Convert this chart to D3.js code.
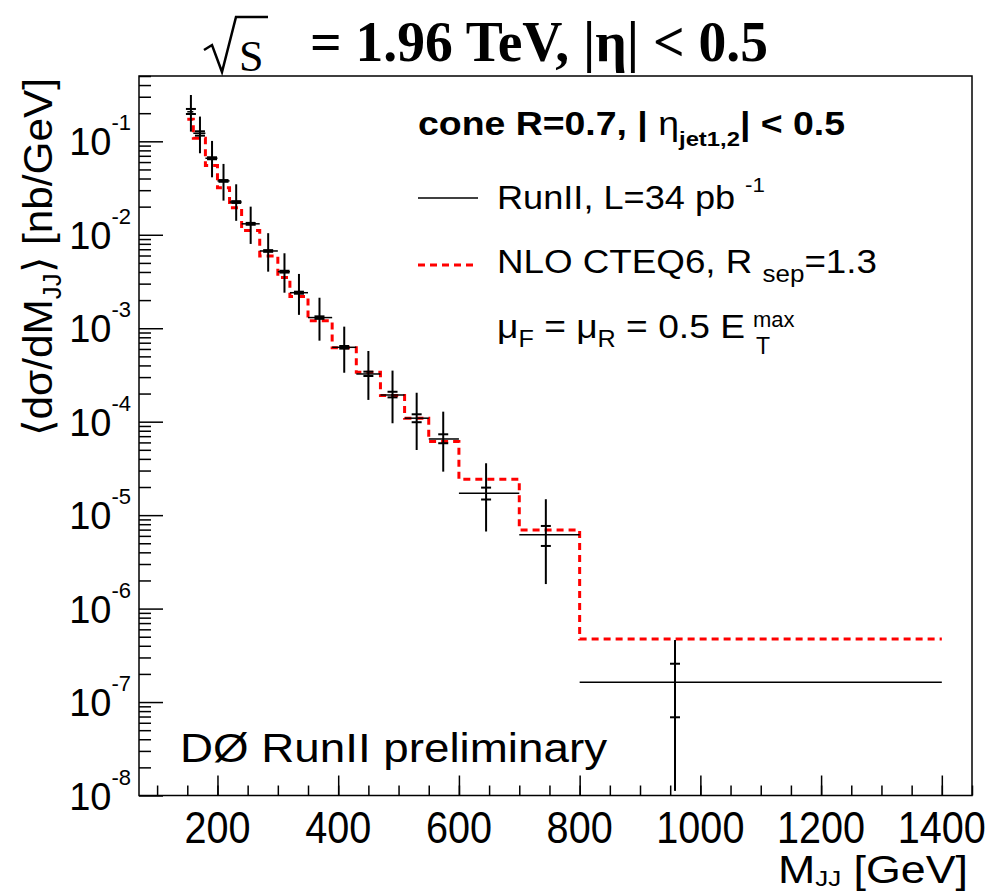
<!DOCTYPE html>
<html>
<head>
<meta charset="utf-8">
<script src="https://cdn.jsdelivr.net/npm/d3@7"></script>
<style>
  body { margin: 0; background: #fff; }
  svg { display: block; }
  text { fill: #000; }
</style>
</head>
<body>
<div class="container"></div>
<script>
// dijet mass bins [GeV]
const binLo = [150, 160, 180, 200, 220, 240, 270, 300, 320, 350, 390, 430, 470, 510, 550, 600, 700, 800];
const binHi = [160, 180, 200, 220, 240, 270, 300, 320, 350, 390, 430, 470, 510, 550, 600, 700, 800, 1400];
// where the data point sits inside the bin
const massMean = [156, 171, 191, 210, 231, 255, 284, 311, 335, 369, 410, 450, 490, 530, 574, 645, 744, 958];

// RunII data, <dsigma/dM_JJ> [nb/GeV]
const xsec     = [0.207, 0.122, 0.0659, 0.0377, 0.0224, 0.0131, 0.00671, 0.00403, 0.00240, 0.00130, 6.25e-4, 3.24e-4, 1.93e-4, 1.09e-4, 6.53e-5, 1.71e-5, 6.17e-6, 1.63e-7];
const totUp    = [0.313, 0.184, 0.101, 0.0573, 0.0347, 0.0200, 0.0104, 0.00634, 0.00381, 0.00212, 0.00104, 5.71e-4, 3.52e-4, 2.04e-4, 1.28e-4, 3.59e-5, 1.48e-5, 4.61e-7];
const totDown  = [0.127, 0.0745, 0.0412, 0.0232, 0.0141, 0.00798, 0.00403, 0.00240, 0.00139, 7.36e-4, 3.34e-4, 1.71e-4, 9.62e-5, 4.98e-5, 2.92e-5, 6.68e-6, 1.83e-6, 1.12e-8];
const statUp   = [0.222, 0.128, 0.0675, 0.0385, 0.0229, 0.0134, 0.00685, 0.00412, 0.00246, 0.00134, 6.45e-4, 3.43e-4, 2.09e-4, 1.20e-4, 7.33e-5, 1.97e-5, 7.66e-6, 2.57e-7];
const statDown = [0.196, 0.115, 0.0643, 0.0369, 0.0219, 0.0128, 0.00657, 0.00394, 0.00234, 0.00126, 6.05e-4, 3.08e-4, 1.82e-4, 9.87e-5, 5.88e-5, 1.47e-5, 4.68e-6, 6.87e-8];

// NLO CTEQ6 prediction per bin
const nlo = [0.172, 0.108, 0.0552, 0.0319, 0.0195, 0.0111, 0.00593, 0.00348, 0.00218, 0.00120, 6.19e-4, 3.38e-4, 1.91e-4, 1.09e-4, 6.14e-5, 2.42e-5, 6.93e-6, 4.73e-7];

// axis ticks
const xLabels = [200, 400, 600, 800, 1000, 1200, 1400];
const xMinor = d3.range(100, 1451, 50);
const yExponents = [-8, -7, -6, -5, -4, -3, -2, -1];

const width = 987;
const height = 894;
const padL = 139, padR = 972, padT = 76, padB = 795.5;
const sans = '"Liberation Sans", Arial, Helvetica, sans-serif';
const serif = '"Liberation Serif", "Times New Roman", serif';

const svg = d3.select('.container')
    .append('svg')
    .attr('width', width)
    .attr('height', height)
    .style('font-family', sans);

const x = d3.scaleLinear().domain([70, 1450]).range([padL, padR]);
const y = d3.scaleLog().domain([1e-8, 0.5]).range([padB, padT]);

// frame
svg.append('rect')
    .attr('x', padL).attr('y', padT)
    .attr('width', padR - padL).attr('height', padB - padT)
    .attr('fill', 'none').attr('stroke', '#000').attr('stroke-width', 1.5);

// x axis ticks (inside the frame)
svg.append('g')
    .attr('transform', `translate(0,${padB})`)
    .call(d3.axisBottom(x).tickValues(xMinor).tickSizeInner(-10).tickSizeOuter(0).tickFormat(''));
svg.append('g')
    .attr('transform', `translate(0,${padB})`)
    .call(d3.axisBottom(x).tickValues(xLabels).tickSizeInner(-20).tickSizeOuter(0).tickFormat(''));

// y axis ticks
const yMinorTicks = [];
yExponents.forEach(e => {
    for (let m = 2; m <= 9; m++) {
        const v = m * Math.pow(10, e);
        if (v <= 0.5) yMinorTicks.push(v);
    }
});
svg.append('g')
    .attr('transform', `translate(${padL},0)`)
    .call(d3.axisLeft(y).tickValues(yMinorTicks).tickSizeInner(-12).tickSizeOuter(0).tickFormat(''));
svg.append('g')
    .attr('transform', `translate(${padL},0)`)
    .call(d3.axisLeft(y).tickValues(yExponents.map(e => Math.pow(10, e))).tickSizeInner(-24).tickSizeOuter(0).tickFormat(''));

svg.selectAll('.domain').remove();
svg.selectAll('.tick line').attr('stroke', '#000').attr('stroke-width', 1.5);

// x tick labels (a bit narrow, like the original)
svg.append('g').selectAll('text')
    .data(xLabels)
    .enter()
    .append('text')
    .attr('transform', d => `translate(${x(d)},843) scale(0.9,1)`)
    .attr('text-anchor', 'middle')
    .attr('font-size', 44)
    .text(d => d);

// y tick labels 10^n
const yLab = svg.append('g').selectAll('text')
    .data(yExponents)
    .enter()
    .append('text')
    .attr('x', 131)
    .attr('y', d => y(Math.pow(10, d)) + 14)
    .attr('text-anchor', 'end');
yLab.append('tspan').attr('font-size', 38).text('10');
yLab.append('tspan').attr('font-size', 22).attr('dy', -25).text(d => d);

// axis titles
const xt = svg.append('text')
    .attr('x', 778).attr('y', 883)
    .attr('font-size', 38)
    .attr('textLength', 190)
    .attr('lengthAdjust', 'spacingAndGlyphs');
xt.append('tspan').text('M');
xt.append('tspan').attr('font-size', 22).attr('dy', 3).text('JJ');
xt.append('tspan').attr('dy', -3).text(' [GeV]');

const yt = svg.append('text')
    .attr('transform', 'translate(52,436) rotate(-90)')
    .attr('font-size', 41)
    .attr('textLength', 358)
    .attr('lengthAdjust', 'spacingAndGlyphs');
yt.append('tspan').text('\u27E8d\u03C3/dM');
yt.append('tspan').attr('font-size', 25).attr('dy', 9).text('JJ');
yt.append('tspan').attr('dy', -9).text('\u27E9 [nb/GeV]');

// NLO step histogram
const stepPts = binLo.map((b, i) => [b, nlo[i]]);
stepPts.push([binHi[binHi.length - 1], nlo[nlo.length - 1]]);
const stepLine = d3.line()
    .x(d => x(d[0]))
    .y(d => y(d[1]))
    .curve(d3.curveStepAfter);
svg.append('path')
    .datum(stepPts)
    .attr('d', stepLine)
    .attr('fill', 'none')
    .attr('stroke', '#ff0000')
    .attr('stroke-width', 3)
    .attr('stroke-dasharray', '7,5');

// data points
const pts = svg.append('g').selectAll('g')
    .data(xsec.map((v, i) => ({
        lo: binLo[i], hi: binHi[i], m: massMean[i], v: v,
        tu: totUp[i], td: totDown[i], su: statUp[i], sd: statDown[i]
    })))
    .enter()
    .append('g')
    .attr('stroke', '#000');

pts.append('line')
    .attr('x1', d => x(d.lo)).attr('x2', d => x(d.hi))
    .attr('y1', d => y(d.v)).attr('y2', d => y(d.v))
    .attr('stroke-width', 1.5);
pts.append('line')
    .attr('x1', d => x(d.m)).attr('x2', d => x(d.m))
    .attr('y1', d => y(d.tu)).attr('y2', d => y(d.td))
    .attr('stroke-width', 2);
['su', 'sd'].forEach(k => {
    pts.append('line')
        .attr('x1', d => x(d.m) - 5).attr('x2', d => x(d.m) + 5)
        .attr('y1', d => y(d[k])).attr('y2', d => y(d[k]))
        .attr('stroke-width', 2);
});

// title: sqrt(s) = 1.96 TeV
svg.append('path')
    .attr('d', 'M204,50 L212,45 L222,72 L236,17 L268,17')
    .attr('fill', 'none')
    .attr('stroke', '#000')
    .attr('stroke-width', 2.5)
    .attr('stroke-linejoin', 'miter');
svg.append('text')
    .attr('x', 239).attr('y', 71)
    .style('font-family', serif)
    .attr('font-size', 44)
    .text('S');
svg.append('text')
    .attr('x', 310).attr('y', 61)
    .style('font-family', serif)
    .attr('font-weight', 'bold')
    .attr('font-size', 56)
    .attr('textLength', 458)
    .attr('lengthAdjust', 'spacingAndGlyphs')
    .text('= 1.96 TeV, |\u03B7| < 0.5');

// legend
const cone = svg.append('text')
    .attr('x', 418).attr('y', 135)
    .attr('font-size', 33)
    .attr('font-weight', 'bold')
    .attr('textLength', 427)
    .attr('lengthAdjust', 'spacingAndGlyphs');
cone.append('tspan').text('cone R=0.7, | ');
cone.append('tspan').attr('font-weight', 'normal').text('\u03B7');
cone.append('tspan').attr('font-size', 21).attr('dy', 11).text('jet1,2');
cone.append('tspan').attr('dy', -11).text('| < 0.5');

svg.append('line')
    .attr('x1', 418).attr('x2', 478)
    .attr('y1', 198).attr('y2', 198)
    .attr('stroke', '#000').attr('stroke-width', 1.3);
const run = svg.append('text')
    .attr('x', 497).attr('y', 209)
    .attr('font-size', 34)
    .attr('textLength', 268)
    .attr('lengthAdjust', 'spacingAndGlyphs');
run.append('tspan').text('RunII, L=34 pb ');
run.append('tspan').attr('font-size', 21).attr('dy', -17).text('-1');

svg.append('line')
    .attr('x1', 418).attr('x2', 478)
    .attr('y1', 265).attr('y2', 265)
    .attr('stroke', '#ff0000').attr('stroke-width', 3)
    .attr('stroke-dasharray', '7,5');
const nloLab = svg.append('text')
    .attr('x', 497).attr('y', 273)
    .attr('font-size', 34)
    .attr('textLength', 380)
    .attr('lengthAdjust', 'spacingAndGlyphs');
nloLab.append('tspan').text('NLO CTEQ6, R ');
nloLab.append('tspan').attr('font-size', 24).attr('dy', 9).text('sep');
nloLab.append('tspan').attr('dy', -9).text('=1.3');

const mu = svg.append('text')
    .attr('x', 497).attr('y', 338)
    .attr('font-size', 34)
    .attr('textLength', 248)
    .attr('lengthAdjust', 'spacingAndGlyphs');
mu.append('tspan').text('\u03BC');
mu.append('tspan').attr('font-size', 23).attr('dy', 9).text('F');
mu.append('tspan').attr('dy', -9).text(' = \u03BC');
mu.append('tspan').attr('font-size', 23).attr('dy', 9).text('R');
mu.append('tspan').attr('dy', -9).text(' = 0.5 E');
svg.append('text')
    .attr('x', 753).attr('y', 327)
    .attr('font-size', 22)
    .text('max');
svg.append('text')
    .attr('x', 756).attr('y', 354)
    .attr('font-size', 23)
    .text('T');

svg.append('text')
    .attr('x', 180).attr('y', 762)
    .attr('font-size', 40)
    .attr('textLength', 427)
    .attr('lengthAdjust', 'spacingAndGlyphs')
    .text('D\u00D8 RunII preliminary');
</script>
</body>
</html>
